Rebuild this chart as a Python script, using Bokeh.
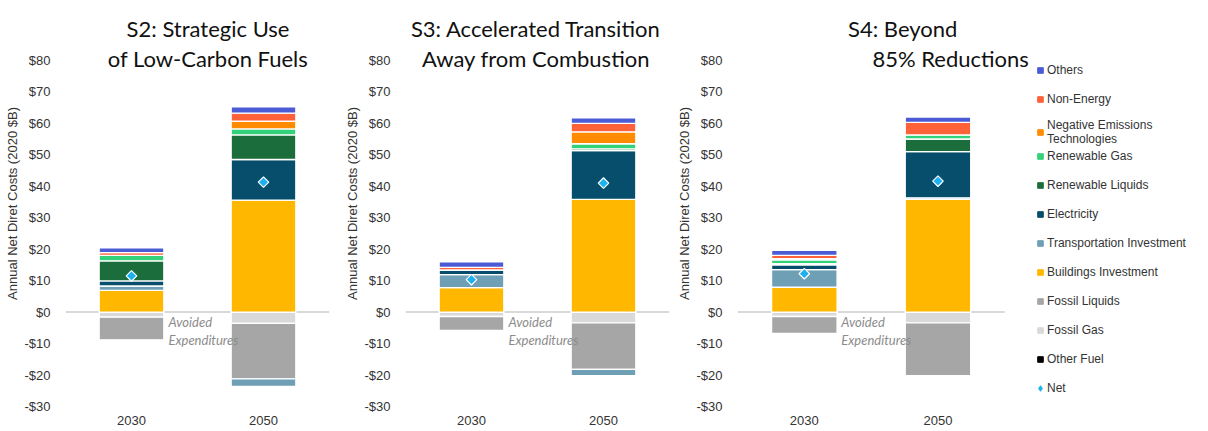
import numpy as np
from bokeh.plotting import figure
from bokeh.layouts import row
from bokeh.models import (Range1d, FixedTicker, NumeralTickFormatter, Label, Legend,
                          LegendItem, ColumnDataSource, Title)
from bokeh.core.properties import value
from bokeh.embed import file_html
from bokeh.resources import INLINE

# ---------------- data ----------------
years = ["2030", "2050"]
scenarios = ["S2", "S3", "S4"]
titles = [["S2: Strategic Use", "of Low-Carbon Fuels"],
          ["S3: Accelerated Transition", "Away from Combustion"],
          ["S4: Beyond", "85% Reductions"]]
y_ticks = [-30, -20, -10, 0, 10, 20, 30, 40, 50, 60, 70, 80]

# values in order: S2-2030, S2-2050, S3-2030, S3-2050, S4-2030, S4-2050 (2020 $B)
other_fuel = [0.0, 0.0, 0.0, 0.0, 0.0, 0.0]
fossil_gas = [-1.6, -3.6, -1.4, -3.4, -1.4, -3.4]
fossil_liquids = [-7.2, -17.6, -4.4, -14.8, -5.4, -16.8]
buildings_investment = [6.9, 35.6, 7.8, 35.8, 7.9, 35.8]
transportation_investment = [1.4, -2.4, 4.1, -2.0, 5.6, 0.5]
electricity = [1.6, 12.9, 1.5, 15.5, 1.5, 14.7]
renewable_liquids = [6.4, 7.8, 0.0, 0.6, 0.4, 4.0]
renewable_gas = [1.7, 1.9, 0.0, 1.6, 1.2, 1.3]
negative_emissions = [0.0, 2.5, 0.0, 3.8, 0.4, 0.0]
non_energy = [0.9, 2.5, 0.8, 2.7, 1.0, 4.0]
others = [1.5, 2.0, 1.8, 1.7, 1.6, 1.7]
net = [11.5, 41.3, 10.3, 41.0, 12.2, 41.6]

# stacking order (bottom to top), legend labels and colours
series = [
    ("Other Fuel", other_fuel, "#000000"),
    ("Fossil Gas", fossil_gas, "#d9d9d9"),
    ("Fossil Liquids", fossil_liquids, "#a6a6a6"),
    ("Buildings Investment", buildings_investment, "#ffb700"),
    ("Transportation Investment", transportation_investment, "#6e9fb5"),
    ("Electricity", electricity, "#064e6b"),
    ("Renewable Liquids", renewable_liquids, "#1b6e3b"),
    ("Renewable Gas", renewable_gas, "#33d17a"),
    ("Negative Emissions\nTechnologies", negative_emissions, "#ff8c00"),
    ("Non-Energy", non_energy, "#ff6138"),
    ("Others", others, "#4b5bd5"),
]
net_color = "#1fb0f0"

TICK_FONT = "Liberation Sans"
TITLE_FONT = "Lato"
TXT = "#333333"

HEIGHT = 427
BL = 57        # left border (axis area)
FW = 272       # frame width for the two categories
BB = 18
CAT_PX = FW / len(years)
FRAME_BOTTOM = HEIGHT - 20
TOP_PX = 60                     # screen position of the top tick
PPU = (FRAME_BOTTOM - TOP_PX) / (y_ticks[-1] - y_ticks[0])
Y_MIN, Y_MAX = y_ticks[0], y_ticks[-1] + TOP_PX / PPU   # head-room holds the titles


def make_legend(items, loc):
    return Legend(items=items, location=loc, orientation="vertical",
                  glyph_width=14, glyph_height=14, label_height=20, spacing=9,
                  label_standoff=0, padding=0, margin=0,
                  label_text_font=TICK_FONT, label_text_font_size="12px",
                  label_text_color=TXT, background_fill_alpha=0,
                  border_line_alpha=0, click_policy="none")


def make_panel(i, width, title_offsets, legend=False):
    frame_w = width - BL if legend else FW
    x_end = -0.5 + frame_w / CAT_PX
    p = figure(width=width, height=HEIGHT, x_range=Range1d(-0.5, x_end),
               y_range=Range1d(Y_MIN, Y_MAX), output_backend="svg", toolbar_location=None,
               min_border_left=BL, min_border_right=width - BL - frame_w,
               min_border_top=0, min_border_bottom=BB)
    p.outline_line_color = None
    p.xgrid.visible = False
    p.ygrid.visible = False

    xs = np.arange(len(years))
    zl = p.segment(x0=[-0.5], x1=[len(years) - 0.5], y0=[0], y1=[0],
                   line_color="#d9d9d9", line_width=2)
    zl.level = "underlay"

    sl = slice(2 * i, 2 * i + 2)
    pos = np.zeros(2)
    neg = np.zeros(2)
    for name, vals, col in series:
        v = np.array(vals[sl], dtype=float)
        bottom = np.where(v >= 0, pos, neg)
        top = bottom + v
        pos = np.where(v >= 0, top, pos)
        neg = np.where(v < 0, top, neg)
        src = ColumnDataSource(dict(x=xs, bottom=bottom, top=top))
        p.vbar(x="x", bottom="bottom", top="top", width=0.49, source=src,
               fill_color=col, line_color="white", line_width=1.3)

    net_src = ColumnDataSource(dict(x=xs, y=net[sl]))
    p.scatter(x="x", y="y", source=net_src, marker="square", angle=np.pi / 4, size=7.5,
              fill_color=net_color, line_color="white", line_width=1.2)

    p.text(x=[xs[0]], y=[-0.5], text=["Avoided\nExpenditures"], x_offset=37,
           text_font=value(TITLE_FONT), text_font_style="italic", text_font_size="13px",
           text_color="#8c8c8c", text_baseline="top", text_align="left",
           text_line_height=1.15)

    # axes
    yax = p.yaxis[0]
    yax.ticker = FixedTicker(ticks=y_ticks)
    yax.formatter = NumeralTickFormatter(format="$0")
    yax.major_label_text_font = TICK_FONT
    yax.major_label_text_font_size = "13px"
    yax.major_label_text_color = TXT
    yax.major_label_standoff = 9
    yax.axis_line_color = None
    yax.major_tick_line_color = None
    yax.minor_tick_line_color = None

    p.add_layout(Title(text="Annual Net Diret Costs (2020 $B)", align="center",
                       offset=-(TOP_PX / 2), standoff=4, text_font=TICK_FONT,
                       text_font_style="normal", text_font_size="13px",
                       text_color=TXT), "left")

    xax = p.xaxis[0]
    xax.ticker = FixedTicker(ticks=list(xs))
    xax.major_label_overrides = {int(k): y for k, y in zip(xs, years)}
    xax.major_label_text_font = TICK_FONT
    xax.major_label_text_font_size = "13px"
    xax.major_label_text_color = TXT
    xax.major_label_standoff = 3
    xax.axis_line_color = None
    xax.major_tick_line_color = None
    xax.minor_tick_line_color = None

    # panel titles
    for k, (t, off) in enumerate(zip(titles[i], title_offsets)):
        p.add_layout(Label(x=(len(years) - 1) / 2, y=y_ticks[-1], x_offset=off,
                           y_offset=32 - 30 * k, text=t,
                           text_align="center", text_baseline="middle",
                           text_font=TITLE_FONT, text_font_size="22px",
                           text_color="#111111"))

    if legend:
        items = []
        for name, vals, col in reversed(series):
            r = p.scatter(x=[np.nan], y=[np.nan], marker="square",
                          fill_color=col, line_color=col)
            items.append(LegendItem(label=name, renderers=[r]))
        rn = p.scatter(x=[np.nan], y=[np.nan], marker="diamond",
                       fill_color=net_color, line_color=net_color)
        items.append(LegendItem(label="Net", renderers=[rn]))
        lx = 1033 - (680 + BL)
        p.add_layout(make_legend(items[:3], (lx, FRAME_BOTTOM - 147)))
        p.add_layout(make_legend(items[3:], (lx, FRAME_BOTTOM - 399)))
    return p


p1 = make_panel(0, 340, [10.5, 10.5])
p2 = make_panel(1, 332, [-1.5, -1.5])
p3 = make_panel(2, 520, [31.5, 79.5], legend=True)

layout = row(p1, p2, p3, spacing=0)

with open("out.html", "w") as f:
    f.write(file_html(layout, INLINE, title="Annual Net Direct Costs"))
